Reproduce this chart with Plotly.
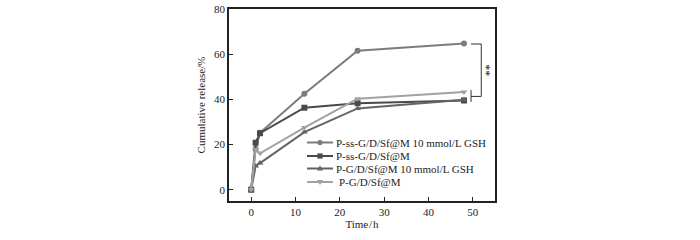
import plotly.graph_objects as go

time_h = [0, 1, 2, 12, 24, 48]
names = ["P-ss-G/D/Sf@M 10 mmol/L GSH", "P-ss-G/D/Sf@M",
         "P-G/D/Sf@M 10 mmol/L GSH", "P-G/D/Sf@M"]
ss_gsh = [0, 18.0, 25.2, 42.5, 61.5, 64.7]
ss = [0, 20.8, 25.0, 36.3, 38.3, 39.5]
g_gsh = [0, 10.5, 11.8, 25.5, 36.0, 39.8]
g = [0, 17.9, 16.1, 27.5, 40.3, 43.3]
series = [ss_gsh, ss, g_gsh, g]
colors = ["#7c7c7c", "#4a4a4a", "#646464", "#a2a2a2"]
symbols = ["circle", "square", "triangle-up", "triangle-down"]

FONT = "Liberation Serif, Times New Roman, serif"

# plot area in screen pixels
L, R, T, B = 229, 495, 9, 201
W, H = R - L, B - T
FIG_W, FIG_H = 700, 240


def px(x):
    return (x - L) / W


def py(y):
    return (B - y) / H


fig = go.Figure()
for n, v, c, s in zip(names, series, colors, symbols):
    fig.add_trace(go.Scatter(x=time_h, y=v, name=n, mode="lines+markers",
                             line=dict(color=c, width=2),
                             marker=dict(symbol=s, size=6, color=c),
                             showlegend=False))

# manual legend (compact, like the reference)
rows = [142.5, 156, 168.5, 182]
text_x = [336, 336, 336, 339]
for i, (n, c, s) in enumerate(zip(names, colors, symbols)):
    yy = py(rows[i])
    fig.add_shape(type="line", xref="paper", yref="paper", x0=px(307), x1=px(333),
                  y0=yy, y1=yy, line=dict(color=c, width=2))
    mx, r = 320, 2.6
    if s == "circle":
        fig.add_shape(type="circle", xref="paper", yref="paper", x0=px(mx - r), x1=px(mx + r),
                      y0=py(rows[i] + r), y1=py(rows[i] - r), fillcolor=c, line=dict(color=c, width=0))
    elif s == "square":
        fig.add_shape(type="rect", xref="paper", yref="paper", x0=px(mx - r), x1=px(mx + r),
                      y0=py(rows[i] + r), y1=py(rows[i] - r), fillcolor=c, line=dict(color=c, width=0))
    elif s == "triangle-up":
        path = f"M {px(mx - r - 0.5)},{py(rows[i] + r - 0.5)} L {px(mx + r + 0.5)},{py(rows[i] + r - 0.5)} L {px(mx)},{py(rows[i] - r - 0.5)} Z"
        fig.add_shape(type="path", xref="paper", yref="paper", path=path, fillcolor=c, line=dict(color=c, width=0))
    else:
        path = f"M {px(mx - r - 0.5)},{py(rows[i] - r + 0.5)} L {px(mx + r + 0.5)},{py(rows[i] - r + 0.5)} L {px(mx)},{py(rows[i] + r + 0.5)} Z"
        fig.add_shape(type="path", xref="paper", yref="paper", path=path, fillcolor=c, line=dict(color=c, width=0))
    fig.add_annotation(xref="paper", yref="paper", x=px(text_x[i]), y=yy, text=n,
                       showarrow=False, xanchor="left", yanchor="middle", xshift=-2,
                       font=dict(family=FONT, size=11, color="#222"))

# significance bracket
br = "#333333"
fig.add_shape(type="line", x0=49.6, x1=51.9, y0=64.5, y1=64.5, line=dict(color=br, width=1))
fig.add_shape(type="line", x0=51.9, x1=51.9, y0=64.5, y1=41.3, line=dict(color=br, width=1))
fig.add_shape(type="line", x0=49.6, x1=51.9, y0=41.3, y1=41.3, line=dict(color=br, width=1))
fig.add_shape(type="line", x0=49.6, x1=49.6, y0=38.9, y1=44.1, line=dict(color=br, width=1))
fig.add_annotation(x=52.9, y=53, text="**", showarrow=False, textangle=90,
                   font=dict(family=FONT, size=12, color="#222"))

fig.update_layout(
    width=FIG_W, height=FIG_H,
    margin=dict(l=L, r=FIG_W - R, t=T, b=FIG_H - B, autoexpand=False),
    paper_bgcolor="white", plot_bgcolor="white",
    font=dict(family=FONT, size=11, color="#222"),
    showlegend=False,
    xaxis=dict(range=[-5, 55], tickvals=[0, 10, 20, 30, 40, 50], showgrid=False,
               zeroline=False, showline=True, linecolor="#222", linewidth=1.5, mirror=True,
               ticks="inside", ticklen=4, tickcolor="#222", automargin=False,
               title=dict(text="Time\u200a/\u200ah", standoff=3, font=dict(family=FONT, size=11))),
    yaxis=dict(range=[-5, 80], tickvals=[0, 20, 40, 60, 80], showgrid=False,
               zeroline=False, showline=True, linecolor="#222", linewidth=1.5, mirror=True,
               ticks="inside", ticklen=4, tickcolor="#222", automargin=False,
               title=dict(text="Cumulative release/%", standoff=6, font=dict(family=FONT, size=11))),
)
fig.write_html("out.html", post_script="document.body.style.margin='0';",
               config={"displayModeBar": False})
